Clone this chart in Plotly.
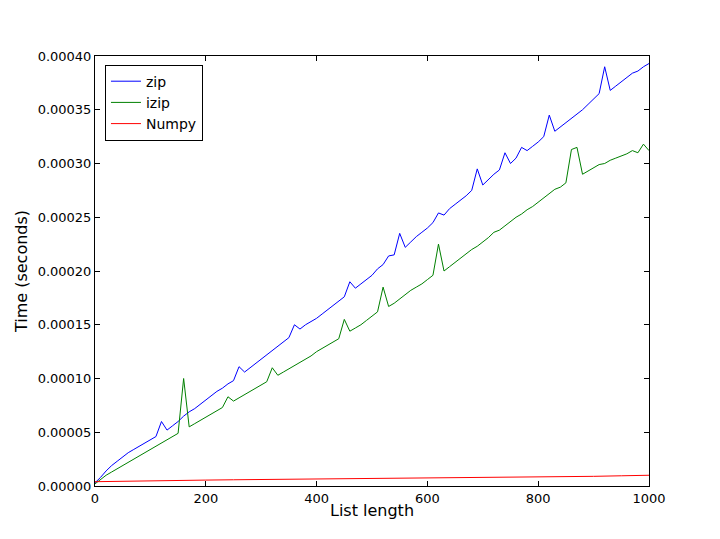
import plotly.graph_objects as go

x = list(range(0, 1001, 10))
zip_e5 = [0.3,0.8,1.4,1.9,2.3,2.7,3.1,3.4,3.7,4.0,4.3,4.6,6.0,5.2,5.6,6.0,6.5,6.9,7.2,7.6,
          8.0,8.4,8.8,9.1,9.5,9.8,11.1,10.6,11.0,11.4,11.8,12.2,12.6,13.0,13.4,13.8,15.0,14.6,15.0,15.3,
          15.6,16.0,16.4,16.8,17.2,17.6,19.0,18.4,18.8,19.2,19.6,20.2,20.6,21.4,21.5,23.5,22.2,22.7,23.2,23.6,
          24.0,24.5,25.4,25.2,25.8,26.2,26.6,27.0,27.5,29.5,28.0,28.5,29.0,29.4,31.0,30.0,30.5,31.5,31.2,31.6,
          32.0,32.5,34.5,33.0,33.4,33.8,34.2,34.6,35.0,35.5,36.0,36.5,39.0,36.8,37.2,37.6,38.0,38.4,38.6,39.0,39.3]
izip_e5 = [0.2,0.6,1.0,1.3,1.6,1.9,2.2,2.5,2.8,3.1,3.4,3.7,4.0,4.3,4.6,4.9,10.0,5.5,5.8,6.1,
           6.4,6.7,7.0,7.3,8.3,7.9,8.2,8.5,8.8,9.1,9.4,9.7,11.0,10.3,10.6,10.9,11.2,11.5,11.8,12.1,
           12.5,12.8,13.1,13.4,13.7,15.5,14.4,14.7,15.0,15.4,15.8,16.2,18.5,16.7,17.0,17.4,17.8,18.2,18.5,18.8,
           19.2,19.6,22.5,20.0,20.4,20.8,21.2,21.6,22.0,22.3,22.7,23.1,23.6,23.8,24.2,24.6,25.0,25.3,25.7,26.0,
           26.4,26.8,27.2,27.6,27.8,28.2,31.3,31.5,29.0,29.3,29.6,29.9,30.0,30.3,30.5,30.7,30.9,31.2,31.0,31.8,31.2]
x_np = list(range(0, 1001, 50))
numpy_e5 = [0.4,0.45,0.5,0.52,0.55,0.58,0.6,0.62,0.65,0.68,0.7,0.72,0.75,0.78,0.8,0.82,0.85,0.88,0.9,0.95,1.0]

fig = go.Figure()
fig.add_trace(go.Scatter(x=x, y=[v*1e-5 for v in zip_e5], mode="lines", name="zip", line=dict(color="#0000ff", width=1)))
fig.add_trace(go.Scatter(x=x, y=[v*1e-5 for v in izip_e5], mode="lines", name="izip", line=dict(color="#008000", width=1)))
fig.add_trace(go.Scatter(x=x_np, y=[v*1e-5 for v in numpy_e5], mode="lines", name="Numpy", line=dict(color="#ff0000", width=1)))

ax = dict(showline=True, linecolor="black", linewidth=1, mirror="ticks", ticks="inside", ticklen=5,
          tickcolor="black", showgrid=False, zeroline=False)
fig.update_layout(
    width=720, height=539, paper_bgcolor="white", plot_bgcolor="white",
    margin=dict(l=83, r=79, t=48, b=61),
    font=dict(family="DejaVu Sans", size=13, color="black"),
    xaxis=dict(range=[0, 1000], dtick=200, title=dict(text="List length", standoff=0), **ax),
    yaxis=dict(range=[0, 0.0004], dtick=0.00005, tickformat=".5f", title=dict(text="Time (seconds)", standoff=6), **ax),
    legend=dict(x=0.018, y=0.98, xanchor="left", yanchor="top", bordercolor="black", borderwidth=1,
                bgcolor="white", font=dict(size=14)),
)
fig.write_html("out.html")
